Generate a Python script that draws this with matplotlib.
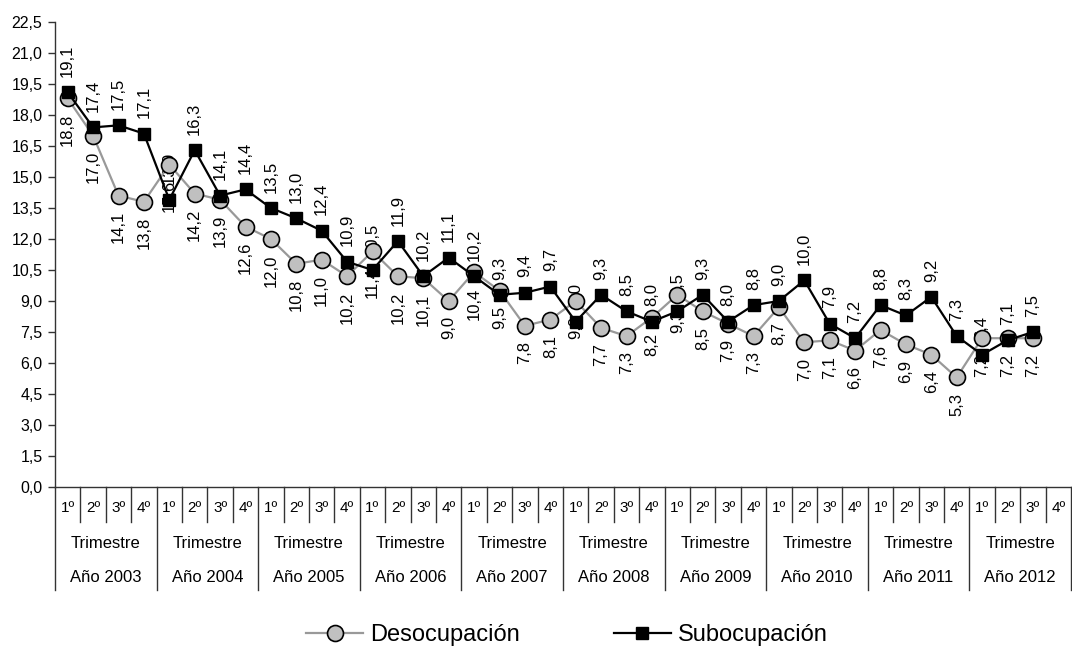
import matplotlib
matplotlib.use("Agg")
import matplotlib.pyplot as plt
from matplotlib.lines import Line2D

plt.rcParams['font.family'] = ['Liberation Sans', 'DejaVu Sans']

# ---- data ----
quarters = ['1º', '2º', '3º', '4º']
period_label = 'Trimestre'
years = ['Año 2003', 'Año 2004', 'Año 2005', 'Año 2006', 'Año 2007',
         'Año 2008', 'Año 2009', 'Año 2010', 'Año 2011', 'Año 2012']
desocupacion = [18.8, 17.0, 14.1, 13.8,
                15.6, 14.2, 13.9, 12.6,
                12.0, 10.8, 11.0, 10.2,
                11.4, 10.2, 10.1, 9.0,
                10.4, 9.5, 7.8, 8.1,
                9.0, 7.7, 7.3, 8.2,
                9.3, 8.5, 7.9, 7.3,
                8.7, 7.0, 7.1, 6.6,
                7.6, 6.9, 6.4, 5.3,
                7.2, 7.2, 7.2]
subocupacion = [19.1, 17.4, 17.5, 17.1,
                13.9, 16.3, 14.1, 14.4,
                13.5, 13.0, 12.4, 10.9,
                10.5, 11.9, 10.2, 11.1,
                10.2, 9.3, 9.4, 9.7,
                8.0, 9.3, 8.5, 8.0,
                8.5, 9.3, 8.0, 8.8,
                9.0, 10.0, 7.9, 7.2,
                8.8, 8.3, 9.2, 7.3,
                6.4, 7.1, 7.5]
yticks = [i * 1.5 for i in range(16)]

W, H = 1072, 648
fig = plt.figure(figsize=(W / 100, H / 100), dpi=100)
ax_left, ax_right, ax_top, ax_bottom = 55, 1071, 22, 487
ax = fig.add_axes([ax_left / W, 1 - ax_bottom / H,
                   (ax_right - ax_left) / W, (ax_bottom - ax_top) / H])

n_slots = len(years) * len(quarters)
xd = [i + 0.5 for i in range(len(desocupacion))]
xs = [i + 0.5 for i in range(len(subocupacion))]

grey_line = '#999999'
grey_fill = '#C0C0C0'

ax.plot(xd, desocupacion, color=grey_line, lw=1.6, marker='o', ms=11.5,
        mfc=grey_fill, mec='black', mew=1.2, zorder=3, label='Desocupación')
ax.plot(xs, subocupacion, color='black', lw=1.6, marker='s', ms=8,
        mfc='black', mec='black', zorder=4, label='Subocupación')

def fmt(v):
    return f"{v:.1f}".replace('.', ',')

for x, v in zip(xd, desocupacion):
    ax.annotate(fmt(v), (x, v), xytext=(0, -11), textcoords='offset points',
                rotation=90, ha='center', va='top', fontsize=12, zorder=2)
for x, v in zip(xs, subocupacion):
    ax.annotate(fmt(v), (x, v), xytext=(0, 11), textcoords='offset points',
                rotation=90, ha='center', va='bottom', fontsize=12, zorder=2)

ax.set_xlim(0, n_slots)
ax.set_ylim(0, 22.5)
ax.set_yticks(yticks)
ax.set_yticklabels([fmt(t) for t in yticks], fontsize=11.5)
ax.tick_params(axis='y', direction='out', length=5, width=1, color='#333333', pad=4)
ax.set_xticks([])
for s in ['top', 'right']:
    ax.spines[s].set_visible(False)
for s in ['left', 'bottom']:
    ax.spines[s].set_color('#333333')
    ax.spines[s].set_linewidth(1)

# ---- multi-level category axis ----
hpx = ax_bottom - ax_top
def yfrac(ypx):
    return (ax_bottom - ypx) / hpx

tr = ax.get_xaxis_transform()
for i in range(n_slots + 1):
    if i % len(quarters) == 0:
        y1 = yfrac(590)
    else:
        y1 = yfrac(522)
    ax.plot([i, i], [0, y1], transform=tr, color='#333333', lw=1, clip_on=False)

for yi, yl in enumerate(years):
    for qi, q in enumerate(quarters):
        ax.text(yi * 4 + qi + 0.5, yfrac(508), q, transform=tr, ha='center',
                va='center', fontsize=11)
    ax.text(yi * 4 + 2, yfrac(543), period_label, transform=tr, ha='center',
            va='center', fontsize=12)
    ax.text(yi * 4 + 2, yfrac(577), yl, transform=tr, ha='center',
            va='center', fontsize=12)

# ---- legend ----
handles = [Line2D([], [], color=grey_line, lw=1.6, marker='o', ms=11.5,
                  mfc=grey_fill, mec='black', mew=1.2),
           Line2D([], [], color='black', lw=1.6, marker='s', ms=8, mfc='black')]
fig.legend(handles, ['Desocupación', 'Subocupación'], loc='center',
           bbox_to_anchor=(567 / W, 1 - 635 / H), ncol=2, frameon=False,
           fontsize=17, handlelength=2.4, handletextpad=0.3, columnspacing=4.0,
           borderpad=0.1)

fig.savefig('out.png', dpi=100)
